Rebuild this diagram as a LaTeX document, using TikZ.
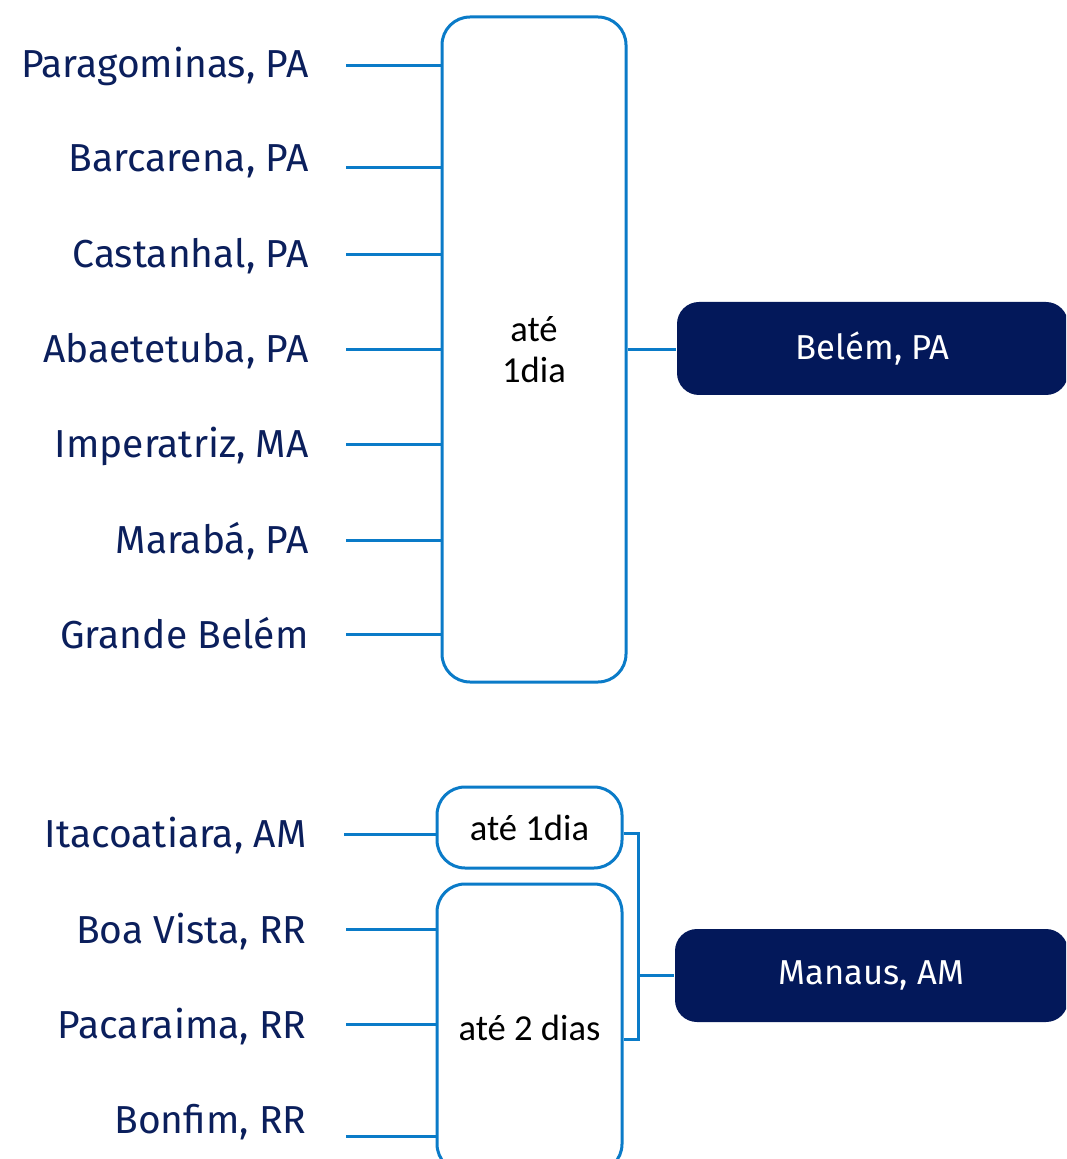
\documentclass[tikz,border=0pt]{standalone}
\usepackage{fontspec}
\setmainfont{Fira Sans}
\newfontfamily\calfont{Carlito}
\definecolor{linha}{HTML}{0A7BC8}
\definecolor{marinho}{HTML}{03185A}
\definecolor{rotulo}{HTML}{0B1F5C}
\begin{document}
\begin{tikzpicture}[x=0.5pt,y=-0.5pt,line width=1.5pt,
 cidade/.style={anchor=east,inner sep=0pt,text height=13pt,text depth=0pt,text=rotulo,font=\fontsize{19.5}{22}\selectfont},
 prazo/.style={draw=linha,rounded corners=14pt,inner sep=0pt,align=center,font=\calfont\fontsize{18.3}{20.5}\selectfont},
 destino/.style={fill=marinho,rounded corners=11pt,text=white,inner sep=0pt,font=\fontsize{17.3}{20}\selectfont},
 ligacao/.style={draw=linha}]
 \useasboundingbox (0,0) rectangle (1066,1159);
 \clip (0,0) rectangle (1066,1159);
 % Belem
 \node[prazo,minimum width=92pt,minimum height=332.5pt] (p1) at (534,349.5) {até\\1dia};
 \node[destino,minimum width=195.5pt,minimum height=46.5pt] (belem) at (872.5,348.5) {Belém, PA};
 \draw[ligacao] (p1.east) -- (p1.east -| belem.west);
 \foreach \nome/\yt/\yl [count=\i] in {{Paragominas, PA}/65/66,{Barcarena, PA}/159/168,{Castanhal, PA}/255/255,{Abaetetuba, PA}/350/350,{Imperatriz, MA}/445/445,{Marabá, PA}/540/540,{Grande Belém}/635/634}{
 \node[cidade] (c\i) at (310,\yt) {\nome};
 \coordinate (a\i) at (346,\yl);
 \draw[ligacao] (a\i) -- (a\i -| p1.west);
 }
 % Manaus
 \node[prazo,minimum width=92.5pt,minimum height=40.5pt] (p2) at (529.5,827.5) {até 1dia};
 \node[prazo,minimum width=92.5pt,minimum height=144pt] (p3) at (529.5,1028) {até 2 dias};
 \node[cidade] (m1) at (308,834) {Itacoatiara, AM};
 \coordinate (d1) at (344,834);
 \draw[ligacao] (d1) -- (d1 -| p2.west);
 \foreach \nome/\yt/\yl [count=\i from 2] in {{Boa Vista, RR}/930/929,{Pacaraima, RR}/1025/1024,{Bonfim, RR}/1120/1136}{
 \node[cidade] (m\i) at (308,\yt) {\nome};
 \coordinate (d\i) at (346,\yl);
 \draw[ligacao] (d\i) -- (d\i -| p3.west);
 }
 \coordinate (b1) at (638,833);
 \coordinate (b2) at (638,1039);
 \draw[ligacao] (p2.east |- b1) -- (b1) -- (b2) -- (p3.east |- b2);
 \node[destino,minimum width=196.5pt,minimum height=46.5pt] (manaus) at (871.5,975.5) {Manaus, AM};
 \draw[ligacao] (manaus.west) -- (manaus.west -| b1);
\end{tikzpicture}
\end{document}
